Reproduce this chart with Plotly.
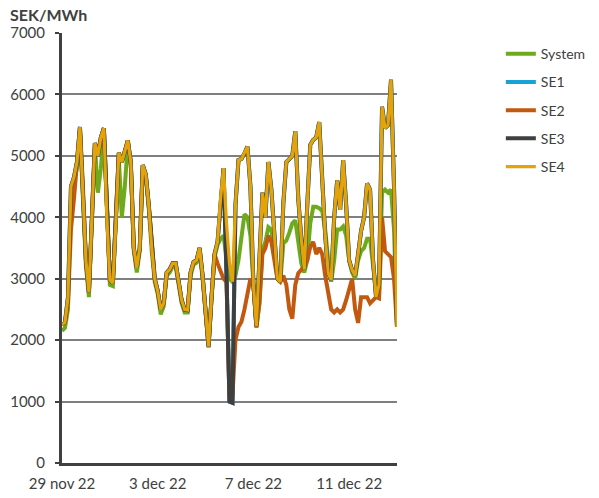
import pandas as pd
import plotly.graph_objects as go

# 3-hourly readings, 29 Nov 2022 00:00 -> 13 Dec 2022 00:00
start = "2022-11-29 00:00"
n_points = 113
times = pd.date_range(start, periods=n_points, freq="3h")

se4 = [2250, 2290, 2700, 4500, 4650, 4900, 5470, 4500, 3300, 2780,
       4000, 5210, 5000, 5300, 5450, 4000, 2980, 2930, 3900, 5050,
       4900, 5100, 5250, 4900, 3500, 3180, 3500, 4850, 4700, 4200,
       3500, 3000, 2800, 2500, 2600, 3100, 3150, 3250, 3250, 2950,
       2650, 2500, 2490, 3100, 3270, 3300, 3500, 3050, 2500, 1900,
       2700, 3400, 3600, 4300, 4800, 3900, 3250, 2950, 4200, 4930,
       4950, 5040, 5150, 4500, 2900, 2230, 3400, 4400, 4000, 4900,
       4450, 3700, 3000, 2950, 4230, 4900, 4960, 5000, 5400, 4300,
       3650, 3150, 4200, 5180, 5260, 5300, 5550, 4500, 3700, 3090,
       2980, 4000, 4600, 4120, 4930, 4200, 3300, 3140, 3050, 3400,
       3780, 4000, 4550, 4450, 3300, 2700, 2900, 5800, 5450, 5500,
       6240, 4500, 2215]

system = [2150, 2200, 2500, 4300, 4600, 4800, 5400, 4450, 3200, 2700,
          3900, 5150, 4400, 4800, 5400, 3950, 2900, 2880, 3800, 4950,
          4000, 4500, 5200, 4850, 3450, 3100, 3450, 4800, 4650, 4150,
          3450, 2950, 2750, 2420, 2550, 3050, 3100, 3200, 3200, 2900,
          2600, 2450, 2450, 3050, 3230, 3260, 3450, 3000, 2480, 1880,
          2680, 3350, 3550, 3650, 3700, 3400, 3000, 2950, 3050, 3300,
          3700, 4050, 4000, 3700, 2900, 2200, 2600, 3470, 3600, 3840,
          3800, 3500, 3000, 2950, 3580, 3620, 3750, 3900, 3950, 3600,
          3250, 3100, 3300, 3900, 4170, 4170, 4150, 4100, 3800, 3300,
          2950, 3300, 3800, 3800, 3850, 3700, 3300, 3100, 3000, 3300,
          3450, 3500, 3650, 3650, 3200, 2770, 2700, 4400, 4450, 4400,
          4450, 3800, 2215]

se2 = [2250, 2290, 2600, 3800, 4300, 4900, 5470, 4500, 3300, 2780,
       4000, 5210, 5000, 5300, 5450, 4000, 2980, 2930, 3900, 5050,
       4900, 5100, 5250, 4900, 3500, 3180, 3500, 4850, 4700, 4200,
       3500, 3000, 2800, 2500, 2600, 3100, 3150, 3250, 3250, 2950,
       2650, 2500, 2490, 3100, 3270, 3300, 3500, 3050, 2500, 1900,
       2700, 3400, 3250, 3100, 3000, 2950, 1000, 1100, 2000, 2215,
       2300, 2500, 2800, 3000, 2900, 2215, 2600, 3400, 3500, 3700,
       3600, 3300, 3000, 2950, 3050, 2900, 2500, 2350, 2900, 3090,
       3150, 3200, 3300, 3520, 3600, 3400, 3500, 3400, 3050, 2800,
       2500, 2450, 2500, 2450, 2500, 2650, 2800, 3000, 2500, 2280,
       2700, 2700, 2700, 2600, 2650, 2700, 2680, 4000, 3450, 3400,
       3350, 3000, 2215]

se3 = list(se4)
se3[55] = 3050
se3[56] = 1000
se3[57] = 980
se1 = list(se3)

series_names = ["System", "SE1", "SE2", "SE3", "SE4"]
series_values = [system, se1, se2, se3, se4]
series_colors = ["#6EAB1C", "#17A3D4", "#C2590F", "#3F3F3F", "#E4A409"]
series_widths = [4, 4, 4, 4, 3.2]

tick_dates = ["2022-11-29", "2022-12-03", "2022-12-07", "2022-12-11"]
tick_labels = ["29 nov 22", "3 dec 22", "7 dec 22", "11 dec 22"]
y_ticks = [0, 1000, 2000, 3000, 4000, 5000, 6000, 7000]

FONT = "Lato, 'Open Sans', sans-serif"

fig = go.Figure()
for name, vals, col, w in zip(series_names, series_values, series_colors, series_widths):
    fig.add_trace(go.Scatter(
        x=times, y=vals, name=name, mode="lines",
        line=dict(color=col, width=w, shape="linear"),
        legendgroup=name,
    ))

fig.update_layout(
    width=599, height=498,
    margin=dict(l=62, r=202, t=33, b=35, autoexpand=False),
    paper_bgcolor="white", plot_bgcolor="white",
    font=dict(family=FONT, size=15, color="#404040"),
    showlegend=True,
    legend=dict(x=1.31, y=0.988, xanchor="left", yanchor="top",
                font=dict(size=14, color="#404040"),
                tracegroupgap=7, bgcolor="rgba(0,0,0,0)"),
    xaxis=dict(
        range=["2022-11-29 00:00", "2022-12-13 00:00"],
        tickvals=tick_dates, ticktext=tick_labels,
        showgrid=False, ticks="", showline=True,
        linecolor="#404040", linewidth=3,
        tickfont=dict(size=15, color="#404040"),
        ticklabelstandoff=5, zeroline=False, automargin=False,
    ),
    yaxis=dict(
        range=[0, 7000], tickvals=y_ticks,
        showgrid=True, gridcolor="#7F7F7F", gridwidth=1.5,
        ticks="outside", ticklen=4, tickwidth=2, tickcolor="#404040",
        showline=True, linecolor="#404040", linewidth=3,
        tickfont=dict(size=15, color="#404040"),
        ticklabelstandoff=7, zeroline=False, automargin=False,
    ),
    annotations=[
        dict(text="<b>SEK/MWh</b>", xref="paper", yref="paper",
             x=-0.161, y=1.016, xanchor="left", yanchor="bottom",
             showarrow=False, font=dict(size=16, color="#404040", family=FONT)),
        dict(text="Timvärden för Sverige, alla elområden (SEK)", xref="paper", yref="paper",
             x=0.13, y=1.071, xanchor="left", yanchor="bottom",
             showarrow=False, font=dict(size=15, color="#404040", family=FONT)),
    ],
)

fig.write_html("out.html",
               config={"displayModeBar": False},
               post_script="document.body.style.margin='0';document.body.style.overflow='hidden';")
